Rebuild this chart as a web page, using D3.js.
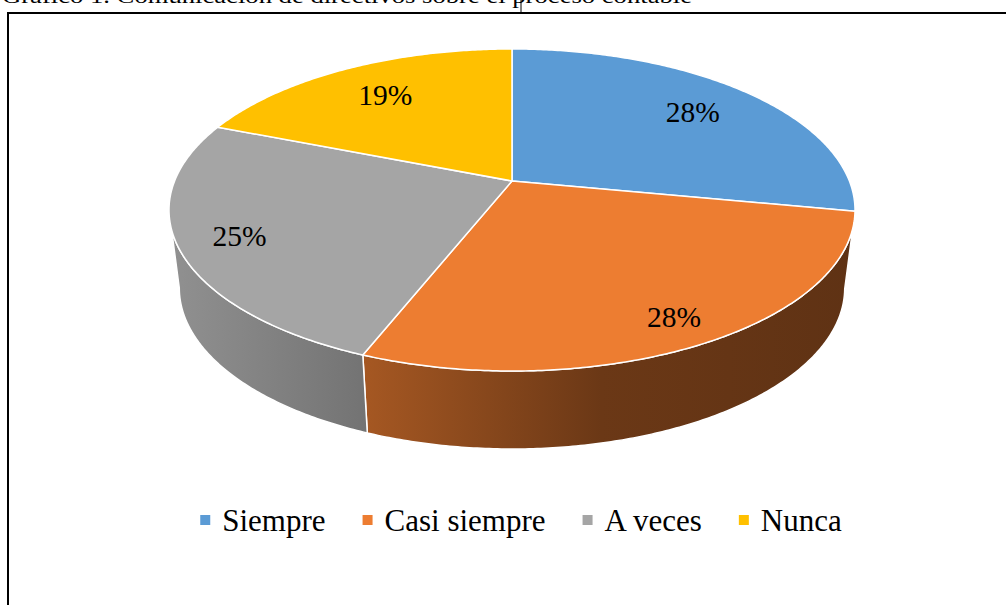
<!DOCTYPE html>
<html>
<head>
<meta charset="utf-8">
<script src="https://cdn.jsdelivr.net/npm/d3@7"></script>
<style>
  body { margin: 0; background: #fff; }
  svg text { font-family: "Liberation Serif", "DejaVu Serif", serif; }
</style>
</head>
<body>
<svg id="chart" width="1006" height="605"></svg>
<script>
const categories = ["Siempre", "Casi siempre", "A veces", "Nunca"];
const values = [28, 28, 25, 19];
const colors = ["#5B9BD5", "#ED7D31", "#A5A5A5", "#FFC000"];
const titleText = "Gráfico 1. Comunicación de directivos sobre el proceso contable";

const svg = d3.select("#chart");
const serif = "Liberation Serif, serif";

// frame + cut title
svg.append("text")
    .attr("x", 2).attr("y", 3)
    .attr("font-family", serif)
    .attr("font-size", 21)
    .attr("textLength", 690)
    .attr("lengthAdjust", "spacingAndGlyphs")
    .text(titleText);
svg.append("line")
    .attr("x1", 521).attr("x2", 521).attr("y1", 0).attr("y2", 13)
    .attr("stroke", "#000").attr("stroke-width", 1);
svg.append("path")
    .attr("d", "M8,620 L8,13 L1020,13")
    .attr("fill", "none").attr("stroke", "#000").attr("stroke-width", 2);

// perspective pie
const cx = 512, cy = 181, A = 337.4, B = 155.8, k = 0.18;
const depth = 78, shrink = 0.97;

function project(theta, rho, bottom) {
    const u = rho * Math.sin(theta), v = rho * Math.cos(theta);
    const w = 1 + k * v;
    let x = A * u / w, y = cy - B * v / w;
    if (bottom) { x *= shrink; y += depth; }
    return [cx + x, y];
}

const pie = d3.pie().sort(null).value(d => d)
    .startAngle(0).endAngle(2 * Math.PI);
const arcs = pie(values);

const line = d3.line();
function arcPoints(a0, a1, bottom) {
    const n = Math.max(2, Math.ceil(Math.abs(a1 - a0) / 0.01));
    return d3.range(n + 1).map(i => project(a0 + (a1 - a0) * i / n, 1, bottom));
}

// visible front part of the side wall
const frontStart = Math.PI - Math.acos(k);
const frontEnd = Math.PI + Math.acos(k);

const defs = svg.append("defs");
arcs.forEach((d, i) => {
    const g = defs.append("linearGradient")
        .attr("id", "side" + i)
        .attr("gradientUnits", "userSpaceOnUse")
        .attr("x1", cx - A * 1.02).attr("x2", cx + A * 1.02)
        .attr("y1", 0).attr("y2", 0);
    const shade = f => d3.interpolateRgb("#000", colors[i])(f);
    [[0, 0.88], [0.27, 0.71], [0.63, 0.45], [1, 0.4]].forEach(s => {
        g.append("stop").attr("offset", s[0]).attr("stop-color", shade(s[1]));
    });
});

const sides = svg.append("g");
arcs.forEach((d, i) => {
    const a0 = Math.max(d.startAngle, frontStart);
    const a1 = Math.min(d.endAngle, frontEnd);
    if (a1 - a0 < 0.02) return;
    const pts = arcPoints(a0, a1, false).concat(arcPoints(a1, a0, true));
    sides.append("path")
        .attr("d", line(pts) + "Z")
        .attr("fill", `url(#side${i})`)
        .attr("stroke", "#fff").attr("stroke-width", 1.5)
        .attr("stroke-linejoin", "round");
});

const tops = svg.append("g");
arcs.forEach((d, i) => {
    const pts = [[cx, cy]].concat(arcPoints(d.startAngle, d.endAngle, false));
    tops.append("path")
        .attr("d", line(pts) + "Z")
        .attr("fill", colors[i])
        .attr("stroke", "#fff").attr("stroke-width", 1.5)
        .attr("stroke-linejoin", "round");
});

// labels
const total = d3.sum(values);
arcs.forEach((d, i) => {
    const mid = (d.startAngle + d.endAngle) / 2;
    const rho = 0.8 - 0.07 * Math.cos(mid);
    const p = project(mid, rho, false);
    svg.append("text")
        .attr("x", p[0]).attr("y", p[1])
        .attr("dy", "0.35em")
        .attr("text-anchor", "middle")
        .attr("font-family", serif)
        .attr("font-size", 29.5)
        .attr("fill", "#000")
        .text(Math.round(d.data / total * 100) + "%");
});

// legend
const legend = svg.append("g");
let lx = 0;
categories.forEach((c, i) => {
    const g = legend.append("g").attr("transform", `translate(${lx},0)`);
    g.append("rect").attr("x", 0).attr("y", -16).attr("width", 10).attr("height", 10)
        .attr("fill", colors[i]);
    const t = g.append("text").attr("x", 22).attr("y", 0)
        .attr("font-family", serif)
        .attr("font-size", 31).attr("fill", "#000").text(c);
    lx += 22 + t.node().getComputedTextLength() + 37;
});
const legendWidth = lx - 37;
legend.attr("transform", `translate(${521 - legendWidth / 2},531)`);
</script>
</body>
</html>
